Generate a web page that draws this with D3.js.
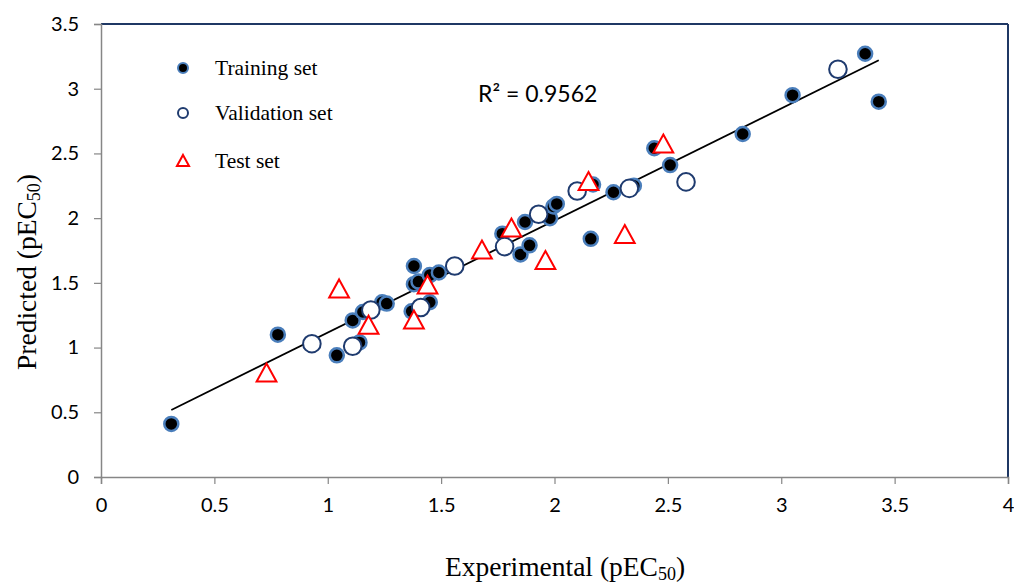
<!DOCTYPE html>
<html><head><meta charset="utf-8">
<script src="https://cdn.jsdelivr.net/npm/d3@7"></script>
<style>body{margin:0;background:#fff}svg{display:block}</style>
</head><body>
<svg id="c" width="1014" height="587"></svg>
<script>
const trainX = [0.31,0.78,1.04,1.11,1.14,1.155,1.24,1.26,1.37,1.38,1.38,1.40,1.45,1.45,1.49,1.77,1.85,1.87,1.89,1.98,1.995,2.01,2.16,2.17,2.26,2.35,2.44,2.51,2.83,3.05,3.37,3.43];
const trainY = [0.41,1.10,0.94,1.21,1.04,1.275,1.35,1.34,1.28,1.63,1.49,1.51,1.35,1.56,1.58,1.88,1.72,1.97,1.79,2.00,2.09,2.11,1.84,2.26,2.20,2.25,2.54,2.41,2.65,2.95,3.27,2.90];
const validX = [0.93,1.11,1.19,1.41,1.56,1.78,1.93,2.10,2.33,2.58,3.25];
const validY = [1.03,1.01,1.29,1.31,1.63,1.78,2.03,2.21,2.23,2.28,3.15];
const testX = [0.73,1.05,1.18,1.38,1.44,1.68,1.81,1.96,2.15,2.31,2.48];
const testY = [0.80,1.45,1.17,1.21,1.48,1.75,1.92,1.67,2.28,1.87,2.57];
const fitX = [0.31,3.43];
const fitY = [0.518,3.22];
const xTicks = [0,0.5,1,1.5,2,2.5,3,3.5,4];
const yTicks = [0,0.5,1,1.5,2,2.5,3,3.5];
const legendLabels = ["Training set","Validation set","Test set"];
const r2Label = "R² = 0.9562";

const svg = d3.select("#c");
const L=101, R=1008, T=24, B=477;
const x = d3.scaleLinear().domain([0,4]).range([L,R]);
const y = d3.scaleLinear().domain([0,3.5]).range([B,T]);

svg.append("line").attr("x1",L).attr("x2",R).attr("y1",T).attr("y2",T).attr("stroke","#1f3864").attr("stroke-width",2);
svg.append("line").attr("x1",R).attr("x2",R).attr("y1",T).attr("y2",B).attr("stroke","#1f3864").attr("stroke-width",2);

const xa = svg.append("g").attr("transform",`translate(0,${B})`)
  .call(d3.axisBottom(x).tickValues(xTicks).tickFormat(d3.format("")).tickSizeOuter(0).tickSize(7).tickPadding(14));
const ya = svg.append("g").attr("transform",`translate(${L},0)`)
  .call(d3.axisLeft(y).tickValues(yTicks).tickFormat(d3.format("")).tickSizeOuter(0).tickSize(7).tickPadding(15));
[xa,ya].forEach(a=>{
  a.select(".domain").attr("stroke","#868686").attr("stroke-width",1.5);
  a.selectAll(".tick line").attr("stroke","#868686").attr("stroke-width",1.2);
  a.selectAll(".tick text").attr("fill","#000").style("font-family","Lato, 'Open Sans', sans-serif").style("font-size","20px");
});

svg.append("line").attr("x1",x(fitX[0])).attr("y1",y(fitY[0])).attr("x2",x(fitX[1])).attr("y2",y(fitY[1]))
  .attr("stroke","#000").attr("stroke-width",1.8);

const tri = s => `M0,${-s*0.55}L${s*0.55},${s*0.45}L${-s*0.55},${s*0.45}Z`;

svg.append("g").selectAll("circle").data(trainX).join("circle")
  .attr("cx",(d,i)=>x(d)).attr("cy",(d,i)=>y(trainY[i])).attr("r",7)
  .attr("fill","#000").attr("stroke","#4a7ebb").attr("stroke-width",2.5);
svg.append("g").selectAll("circle").data(validX).join("circle")
  .attr("cx",(d,i)=>x(d)).attr("cy",(d,i)=>y(validY[i])).attr("r",8.8)
  .attr("fill","#fff").attr("stroke","#1f3b6f").attr("stroke-width",2);
svg.append("g").selectAll("path").data(testX).join("path")
  .attr("transform",(d,i)=>`translate(${x(d)},${y(testY[i])})`).attr("d",tri(18))
  .attr("fill","#fff").attr("stroke","#ff0000").attr("stroke-width",2);

const lg = svg.append("g");
const ly=[68,113,161];
lg.append("circle").attr("cx",183).attr("cy",ly[0]).attr("r",5).attr("fill","#000").attr("stroke","#4a7ebb").attr("stroke-width",2);
lg.append("circle").attr("cx",183).attr("cy",ly[1]).attr("r",5).attr("fill","#fff").attr("stroke","#1f3b6f").attr("stroke-width",2);
lg.append("path").attr("transform",`translate(183,${ly[2]})`).attr("d",tri(11)).attr("fill","#fff").attr("stroke","#ff0000").attr("stroke-width",2);
lg.selectAll("text").data(legendLabels).join("text")
  .attr("x",215).attr("y",(d,i)=>ly[i]+7).text(d=>d)
  .style("font-family","'Liberation Serif','Times New Roman',serif").style("font-size","21.5px");

svg.append("text").attr("x",478).attr("y",102).text(r2Label)
  .style("font-family","Lato, 'Open Sans', sans-serif").style("font-size","23px");

const xt = svg.append("text").attr("x",565).attr("y",576).attr("text-anchor","middle")
  .style("font-family","'Liberation Serif','Times New Roman',serif").style("font-size","27.5px");
xt.append("tspan").text("Experimental (pEC");
xt.append("tspan").text("50").attr("font-size","18px").attr("dy",4);
xt.append("tspan").text(")").attr("dy",-4);

const yt = svg.append("text").attr("transform","translate(36,272) rotate(-90)").attr("text-anchor","middle")
  .style("font-family","'Liberation Serif','Times New Roman',serif").style("font-size","27.5px");
yt.append("tspan").text("Predicted (pEC");
yt.append("tspan").text("50").attr("font-size","18px").attr("dy",4);
yt.append("tspan").text(")").attr("dy",-4);
</script>
</body></html>
